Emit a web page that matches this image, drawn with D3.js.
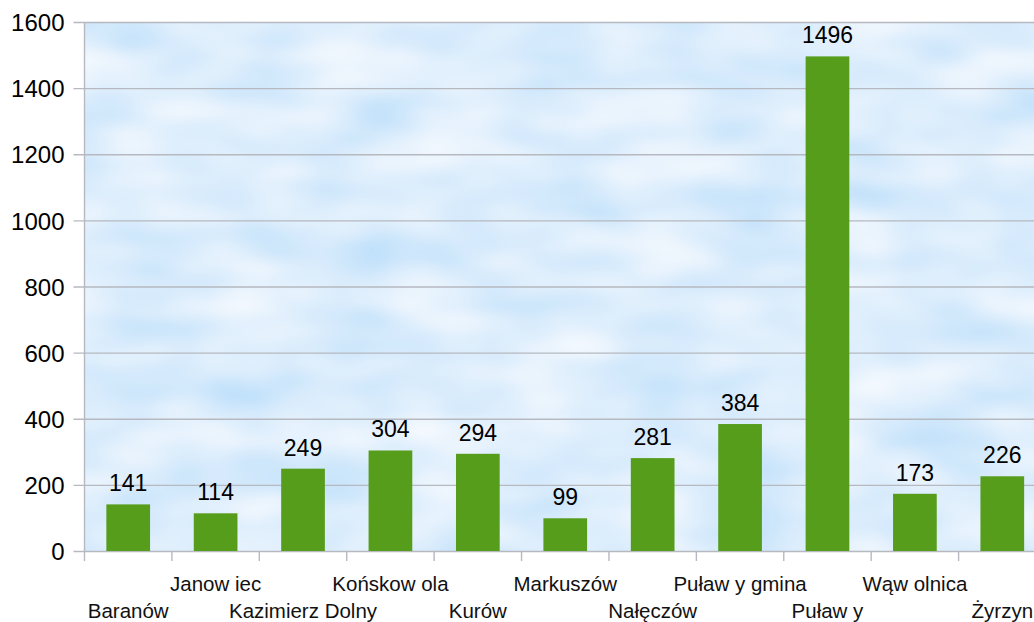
<!DOCTYPE html>
<html>
<head>
<meta charset="utf-8">
<script src="https://cdn.jsdelivr.net/npm/d3@7"></script>
<style>
  html, body { margin: 0; padding: 0; background: #fff; overflow: hidden; }
  svg { display: block; font-family: "Liberation Sans", Arial, sans-serif; }
  .axis .domain { display: none; }
</style>
</head>
<body>
<div id="root"></div>
<script>
var categories = ["Baranów", "Janow iec", "Kazimierz Dolny", "Końskow ola", "Kurów", "Markuszów",
  "Nałęczów", "Puław y gmina", "Puław y", "Wąw olnica", "Żyrzyn"];
var values = [141, 114, 249, 304, 294, 99, 281, 384, 1496, 173, 226];
var yTicks = [0, 200, 400, 600, 800, 1000, 1200, 1400, 1600];

var w = 1034, h = 622;
var margin = { top: 22, right: -12, bottom: 71, left: 84.5 };

var svg = d3.select("#root").append("svg").attr("width", w).attr("height", h);

var xScale = d3.scaleBand().domain(categories)
  .range([margin.left, w - margin.right]).paddingInner(0).paddingOuter(0);
var yScale = d3.scaleLinear().domain([0, 1600]).range([h - margin.bottom, margin.top]);

// sky background with soft cloud texture
var defs = svg.append("defs");
var f = defs.append("filter").attr("id", "clouds")
  .attr("x", 0).attr("y", 0).attr("width", "100%").attr("height", "100%");
f.append("feTurbulence").attr("type", "fractalNoise")
  .attr("baseFrequency", "0.01 0.022").attr("numOctaves", 2).attr("seed", 3);
f.append("feGaussianBlur").attr("stdDeviation", "4 2");
f.append("feColorMatrix").attr("type", "matrix")
  .attr("values", "0.5 0 0 0 0.47  0.26 0 0 0 0.72  0.04 0 0 0 0.955  0 0 0 0 1");
var x0 = xScale.range()[0], x1 = xScale.range()[1];
svg.append("rect").attr("x", x0).attr("y", yScale(1600))
  .attr("width", x1 - x0).attr("height", yScale(0) - yScale(1600))
  .attr("filter", "url(#clouds)");

// gridlines + y labels
var yAxis = d3.axisLeft(yScale).tickValues(yTicks).tickFormat(d3.format("d"))
  .tickSize(-(x1 - x0) - 11).tickPadding(10);
var gy = svg.append("g").attr("class", "axis").attr("transform", "translate(" + (x0 - 11) + ",0)").call(yAxis);
gy.selectAll(".tick line").attr("stroke", "#b6b9bf").attr("stroke-width", 1.4);
gy.selectAll(".tick text").attr("fill", "#000").style("font-size", "24px")
  .attr("x", -9).attr("dy", "0.36em");

// left axis line
svg.append("line").attr("x1", x0).attr("x2", x0)
  .attr("y1", yScale(1600)).attr("y2", yScale(0) + 10)
  .attr("stroke", "#b6b9bf").attr("stroke-width", 1.4);

// x tick marks at band edges
svg.selectAll(".xtick").data(categories.slice(1)).enter().append("line")
  .attr("x1", function(d) { return xScale(d); }).attr("x2", function(d) { return xScale(d); })
  .attr("y1", yScale(0)).attr("y2", yScale(0) + 10)
  .attr("stroke", "#b6b9bf").attr("stroke-width", 1.4);

// bars
var bw = xScale.bandwidth() * 0.5;
svg.selectAll(".bar").data(values).enter().append("rect").attr("class", "bar")
  .attr("x", function(d, i) { return xScale(categories[i]) + (xScale.bandwidth() - bw) / 2; })
  .attr("y", function(d) { return yScale(d); })
  .attr("width", bw)
  .attr("height", function(d) { return yScale(0) - yScale(d); })
  .attr("fill", "#579d1c");

// value labels
svg.selectAll(".val").data(values).enter().append("text")
  .attr("x", function(d, i) { return xScale(categories[i]) + xScale.bandwidth() / 2; })
  .attr("y", function(d) { return yScale(d) - 13; })
  .attr("text-anchor", "middle").style("font-size", "23px")
  .text(function(d) { return d; });

// category labels, staggered
svg.selectAll(".cat").data(categories).enter().append("text")
  .attr("x", function(d) { return xScale(d) + xScale.bandwidth() / 2; })
  .attr("y", function(d, i) { return i % 2 ? 591 : 618; })
  .attr("text-anchor", "middle").style("font-size", "20.5px")
  .attr("fill", "#111")
  .text(function(d) { return d; });
</script>
</body>
</html>
